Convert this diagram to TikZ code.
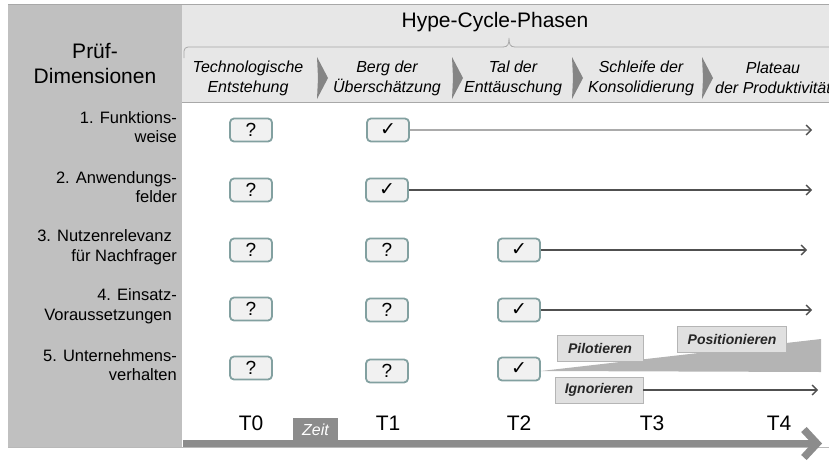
\documentclass[tikz,border=0pt]{standalone}
\usepackage{fontspec}
\setmainfont{Liberation Sans}
\newfontfamily\checkfont{DejaVu Sans}
\usetikzlibrary{arrows.meta}

\definecolor{dimgray}{HTML}{C0C0C0}
\definecolor{headgray}{HTML}{E7E7E7}
\definecolor{rimgray}{HTML}{A8A8A8}
\definecolor{chevgray}{HTML}{858585}
\definecolor{boxrim}{HTML}{82A0A0}
\definecolor{boxfill}{HTML}{F1F1F1}
\definecolor{tagfill}{HTML}{E0E0E0}
\definecolor{tagrim}{HTML}{B5B5B5}
\definecolor{wedgegray}{HTML}{B4B4B4}
\definecolor{zeitgray}{HTML}{8C8C8C}
\definecolor{linedark}{HTML}{505050}
\definecolor{linelight}{HTML}{ABABAB}

\tikzstyle{qbox}=[rectangle, rounded corners=4pt, draw=boxrim, line width=1.8pt, fill=boxfill, minimum width=42pt, minimum height=23pt, inner sep=0pt, font=\fontsize{19}{19}\selectfont]
\tikzstyle{okbox}=[qbox, font=\fontsize{19}{19}\checkfont]
\tikzstyle{tag}=[rectangle, draw=tagrim, fill=tagfill, line width=0.8pt, minimum height=26pt, inner sep=0pt, text=black!85, font=\fontsize{14}{14}\selectfont\bfseries\itshape]
\tikzstyle{dimlab}=[anchor=east, align=right, inner sep=0pt, font=\fontsize{16.5}{19.5}\selectfont]
\tikzstyle{headlab}=[align=center, inner sep=0pt, font=\fontsize{21}{25}\selectfont]
\tikzstyle{phaselab}=[align=center, inner sep=0pt, font=\fontsize{16}{20}\selectfont\itshape]
\tikzstyle{tlab}=[inner sep=0pt, font=\fontsize{21}{21}\selectfont]
\tikzstyle{zeittab}=[rectangle, fill=zeitgray, text=white, minimum width=45pt, minimum height=23pt, inner sep=0pt, font=\fontsize{16}{16}\selectfont\itshape]
\tikzstyle{runline}=[line width=1.3pt, draw=linedark, -{Straight Barb[length=5pt,width=10pt,color=linedark]}]

\begin{document}
\begin{tikzpicture}[x=1pt, y=-1pt]

\useasboundingbox (0,0) rectangle (829,461);

\fill[dimgray] (8,4) rectangle (182,447);
\fill[headgray] (182,4) rectangle (829,102);
\draw[rimgray, line width=0.8pt] (8,4) -- (829,4);
\draw[rimgray!80, line width=1.5pt] (8,447.5) -- (829,447.5);
\draw[rimgray, line width=1pt] (182,102) -- (829,102);

\draw[rimgray, line width=0.8pt, rounded corners=4pt] (184,58) -- (184,47) -- (503,47);
\draw[rimgray, line width=0.8pt] (503,47) .. controls (508,47) and (509,44) .. (509,38)
  .. controls (509,44) and (510,47) .. (515,47) -- (829,47);

\foreach \cx in {317,452,572,702}
  \fill[chevgray] (\cx,57) -- (\cx+11,78) -- (\cx,99) -- (\cx+1,78) -- cycle;

\node[headlab] (hype) at (495,22) {Hype-Cycle-Phasen};
\node[headlab] (pruef) at (95,64) {Prüf-\\Dimensionen};

\node[phaselab] (ph0) at (248,78) {Technologische\\Entstehung};
\node[phaselab] (ph1) at (387,78) {Berg der\\Überschätzung};
\node[phaselab] (ph2) at (513,78) {Tal der\\Enttäuschung};
\node[phaselab] (ph3) at (641,78) {Schleife der\\Konsolidierung};
\node[phaselab] (ph4) at (773,78) {Plateau\\der Produktivität};

\node[dimlab] (dim1) at (177,127) {1. Funktions-\\weise};
\node[dimlab] (dim2) at (177,187) {2. Anwendungs-\\felder};
\node[dimlab] (dim3) at (177,247) {3. Nutzenrelevanz\hspace*{5pt}\\für Nachfrager};
\node[dimlab] (dim4) at (177,306) {4. Einsatz-\\Voraussetzungen\hspace*{5pt}};
\node[dimlab] (dim5) at (177,365) {5. Unternehmens-\\verhalten};

\node[qbox] (row1t0) at (251,130) {?};
\node[okbox] (row1t1) at (388,130) {✓};
\node[qbox] (row2t0) at (251,190) {?};
\node[okbox] (row2t1) at (387,190) {✓};
\node[qbox] (row3t0) at (251,250) {?};
\node[qbox] (row3t1) at (387,250) {?};
\node[okbox] (row3t2) at (519,250) {✓};
\node[qbox] (row4t0) at (251,309) {?};
\node[qbox] (row4t1) at (387,310) {?};
\node[okbox] (row4t2) at (519,310) {✓};
\node[qbox] (row5t0) at (251,368) {?};
\node[qbox] (row5t1) at (387,371) {?};
\node[okbox] (row5t2) at (519,369) {✓};

\coordinate (end1) at (812,130);
\coordinate (end2) at (812,190);
\coordinate (end3) at (807,250);
\coordinate (end4) at (812,310);
\coordinate (end5) at (818,390);
\coordinate (wtop) at (821,339);
\coordinate (wbot) at (821,372);

\draw[runline, draw=linelight] (row1t1) -- (end1);
\draw[runline] (row2t1) -- (end2);
\draw[runline] (row3t2) -- (end3);
\draw[runline] (row4t2) -- (end4);

\fill[wedgegray] ([yshift=-2pt]row5t2.east) -- (wtop) -- (wbot) -- cycle;

\node[tag, minimum width=86pt] (pilot) at (600,348) {Pilotieren};
\node[tag, minimum width=109pt] (posit) at (732,339) {Positionieren};
\node[tag, minimum width=88pt] (ignor) at (599,390) {Ignorieren};
\draw[runline] (ignor) -- (end5);

\node[tlab] (T0) at (251,423) {T0};
\node[tlab] (T1) at (388,423) {T1};
\node[tlab] (T2) at (519,423) {T2};
\node[tlab] (T3) at (652,423) {T3};
\node[tlab] (T4) at (779,423) {T4};

\coordinate (zstart) at (183,443.5);
\coordinate (zend) at (822,443.5);
\draw[line width=7.5pt, zeitgray, -{Straight Barb[length=13pt,width=28pt]}] (zstart) -- (zend);
\node[zeittab] (zeit) at (315.5,429.5) {Zeit};

\end{tikzpicture}
\end{document}
